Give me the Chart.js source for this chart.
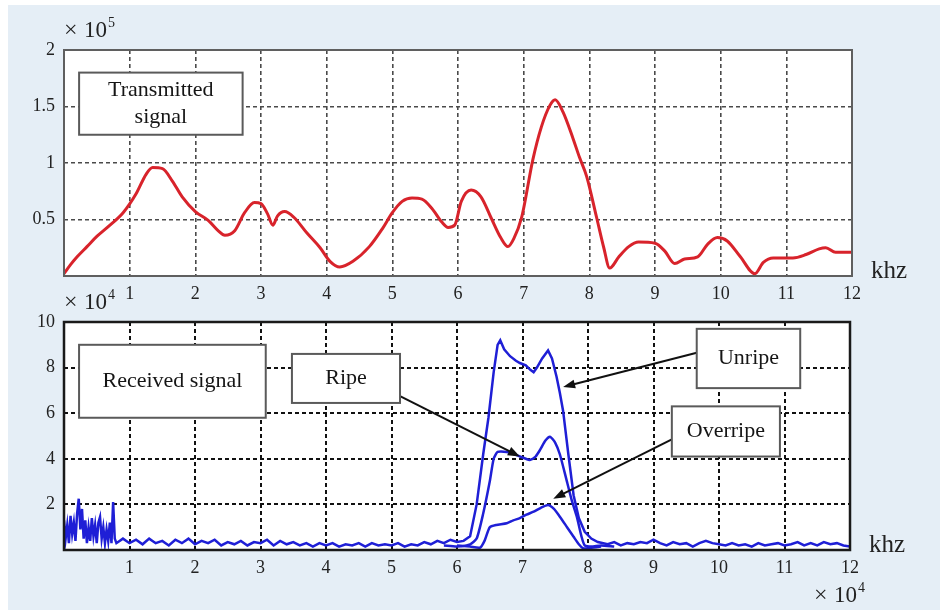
<!DOCTYPE html>
<html>
<head>
  <title>Transmitted and received signal</title>
  <script src="https://cdn.jsdelivr.net/npm/chart.js"></script>
  <style>
    body {
      margin: 0;
      width: 940px;
      height: 610px;
      background: #fff;
      overflow: hidden;
    }
    #panel {
      position: absolute;
      left: 8px;
      top: 5px;
      width: 932px;
      height: 605px;
      background: #e5eef6;
    }
    canvas {
      position: absolute;
      left: 0;
    }
    #topChart { top: 0; }
    #bottomChart { top: 280px; }
  </style>
</head>
<body>
  <div id="panel"></div>
  <canvas id="topChart" width="940" height="310"></canvas>
  <canvas id="bottomChart" width="940" height="330"></canvas>

  <script>
    // Tick values (x in units of 10^4 Hz, shown as "khz")
    const xTicks = [1, 2, 3, 4, 5, 6, 7, 8, 9, 10, 11, 12];
    const topYTicks = [0.5, 1, 1.5, 2];      // x 10^5
    const bottomYTicks = [2, 4, 6, 8, 10];   // x 10^4

    // Transmitted signal (x 10^5)
    const sentX = [0, 0.1, 0.2, 0.35, 0.5, 0.7, 0.9, 1.1, 1.25, 1.35, 1.5, 1.65, 1.8, 2.0, 2.2, 2.35, 2.45, 2.6, 2.75, 2.9,
      3.0, 3.1, 3.18, 3.25, 3.36, 3.5, 3.7, 3.9, 4.05, 4.2, 4.4, 4.65, 4.85, 5.0, 5.15, 5.3, 5.45, 5.6, 5.75, 5.85,
      5.95, 6.05, 6.2, 6.35, 6.5, 6.65, 6.76, 6.85, 6.97, 7.14, 7.27, 7.4, 7.48, 7.6, 7.75, 7.85, 7.96, 8.11, 8.22, 8.31,
      8.45, 8.6, 8.75, 9.0, 9.15, 9.3, 9.45, 9.65, 9.8, 9.95, 10.1, 10.3, 10.52, 10.65, 10.8, 11.1, 11.3, 11.5, 11.6, 11.75, 12.0];
    const sentY = [0.02, 0.1, 0.17, 0.26, 0.35, 0.45, 0.56, 0.73, 0.9, 0.96, 0.95, 0.84, 0.7, 0.57, 0.49, 0.4, 0.36, 0.4, 0.56, 0.65,
      0.64, 0.55, 0.45, 0.53, 0.57, 0.52, 0.38, 0.25, 0.13, 0.08, 0.13, 0.26, 0.42, 0.56, 0.66, 0.69, 0.68, 0.6, 0.48, 0.43,
      0.45, 0.66, 0.76, 0.7, 0.52, 0.34, 0.26, 0.33, 0.52, 1.03, 1.32, 1.51, 1.56, 1.45, 1.22, 1.05, 0.88, 0.52, 0.25, 0.07,
      0.17, 0.26, 0.3, 0.29, 0.22, 0.11, 0.15, 0.17, 0.28, 0.34, 0.31, 0.17, 0.02, 0.12, 0.16, 0.16, 0.19, 0.24, 0.25, 0.21, 0.21];

    // Received signal, unripe fruit (x 10^4), carries the noise floor
    const unripeX = [0, 0.025, 0.05, 0.075, 0.1, 0.125, 0.15, 0.175, 0.2, 0.225, 0.25, 0.275, 0.3, 0.325, 0.35, 0.375, 0.4,
      0.425, 0.45, 0.475, 0.5, 0.525, 0.55, 0.575, 0.6, 0.625, 0.65, 0.675, 0.7, 0.725, 0.75, 0.775, 0.8,
      0.9, 1.0, 1.1, 1.2, 1.3, 1.4, 1.5, 1.6, 1.7, 1.8, 1.9, 2.0, 2.1, 2.2, 2.3, 2.4, 2.5, 2.6, 2.7, 2.8, 2.9,
      3.0, 3.1, 3.2, 3.3, 3.4, 3.5, 3.6, 3.7, 3.8, 3.9, 4.0, 4.1, 4.2, 4.3, 4.4, 4.5, 4.6, 4.7, 4.8, 4.9,
      5.0, 5.1, 5.2, 5.3, 5.4, 5.5, 5.6, 5.7, 5.8, 5.9, 6.0,
      6.1, 6.2, 6.3, 6.4, 6.48, 6.56, 6.62, 6.66, 6.72, 6.81, 6.9, 6.96, 7.05, 7.12, 7.17, 7.22, 7.3, 7.39, 7.45,
      7.52, 7.57, 7.62, 7.7, 7.78, 7.86, 7.95, 8.05, 8.15,
      8.3, 8.4, 8.5, 8.6, 8.7, 8.8, 8.9, 9.0, 9.1, 9.2, 9.3, 9.4, 9.5, 9.6, 9.7, 9.8, 9.9, 10.0, 10.1, 10.2,
      10.3, 10.4, 10.5, 10.6, 10.7, 10.8, 10.9, 11.0, 11.1, 11.2, 11.3, 11.4, 11.5, 11.6, 11.7, 11.8, 11.9, 12.0];
    const unripeY = [1.3, 0.5, 1.1, 0.3, 1.5, 0.7, 1.2, 0.4, 1.6, 2.25, 0.9, 1.8, 0.5, 1.3, 0.3, 1.0, 0.4,
      1.4, 0.6, 1.1, 0.3, 1.2, 1.45, 0.5, 1.0, 0.3, 0.9, 0.4, 1.2, 0.3, 2.1, 0.5, 0.3,
      0.5, 0.3, 0.45, 0.25, 0.5, 0.3, 0.4, 0.2, 0.45, 0.3, 0.5, 0.25, 0.4, 0.3, 0.45, 0.2, 0.35, 0.25, 0.4, 0.2, 0.35,
      0.3, 0.45, 0.2, 0.4, 0.25, 0.35, 0.2, 0.3, 0.15, 0.3, 0.2, 0.3, 0.15, 0.25, 0.2, 0.3, 0.15, 0.3, 0.2, 0.25,
      0.2, 0.3, 0.15, 0.25, 0.2, 0.35, 0.25, 0.4, 0.3, 0.45, 0.35,
      0.4, 0.6, 2.0, 4.2, 5.8, 7.8, 9.0, 9.2, 8.8, 8.5, 8.3, 8.2, 8.1, 7.9, 7.8, 8.0, 8.4, 8.75, 8.4,
      7.6, 6.9, 6.1, 4.2, 2.4, 1.4, 0.8, 0.5, 0.35,
      0.25, 0.35, 0.2, 0.3, 0.25, 0.35, 0.3, 0.45, 0.3, 0.2, 0.35, 0.25, 0.3, 0.15, 0.3, 0.4, 0.3, 0.25, 0.2, 0.3,
      0.2, 0.25, 0.15, 0.3, 0.2, 0.25, 0.3, 0.2, 0.25, 0.35, 0.2, 0.3, 0.2, 0.35, 0.25, 0.3, 0.2, 0.15];

    // Received signal, ripe fruit (x 10^4)
    const ripeX = [5.8, 6.0, 6.2, 6.3, 6.4, 6.5, 6.56, 6.62, 6.76, 6.88, 6.96, 7.05, 7.11, 7.2, 7.27, 7.35, 7.42, 7.5,
      7.57, 7.67, 7.75, 7.83, 7.9, 7.95, 8.05, 8.2, 8.4];
    const ripeY = [0.2, 0.15, 0.25, 0.5, 1.6, 3.0, 4.0, 4.3, 4.3, 4.2, 4.1, 4.0, 3.95, 4.1, 4.4, 4.8, 4.97, 4.7,
      4.2, 3.1, 2.2, 1.45, 0.6, 0.2, 0.15, 0.2, 0.15];

    // Received signal, overripe fruit (x 10^4)
    const overripeX = [6.0, 6.2, 6.35, 6.42, 6.5, 6.6, 6.76, 6.86, 6.96, 7.06, 7.17, 7.28, 7.39, 7.48, 7.57, 7.68,
      7.78, 7.86, 7.93, 8.05, 8.2];
    const overripeY = [0.2, 0.15, 0.1, 0.4, 1.0, 1.1, 1.17, 1.3, 1.4, 1.55, 1.68, 1.85, 1.97, 1.8, 1.46, 1.0,
      0.58, 0.25, 0.07, 0.1, 0.15];

    const SERIF = '"Liberation Serif", "DejaVu Serif", serif';
    const RED = '#d8232b';
    const BLUE = '#1f1fd6';

    function points(xs, ys) {
      return xs.map((x, i) => ({ x: x, y: ys[i] }));
    }

    // text boxes and arrows, in data units of each chart
    const topNotes = [
      { x0: 0.23, x1: 2.72, y0: 1.8, y1: 1.25, lines: ['Transmitted', 'signal'] }
    ];
    const bottomNotes = [
      { x0: 0.23, x1: 3.08, y0: 9.0, y1: 5.8, lines: ['Received signal'] },
      { x0: 3.48, x1: 5.13, y0: 8.6, y1: 6.45, lines: ['Ripe'], from: [5.13, 6.75], to: [6.96, 4.1] },
      { x0: 9.66, x1: 11.24, y0: 9.7, y1: 7.1, lines: ['Unripe'], from: [9.66, 8.65], to: [7.62, 7.15] },
      { x0: 9.28, x1: 10.93, y0: 6.3, y1: 4.1, lines: ['Overripe'], from: [9.28, 4.85], to: [7.47, 2.25] }
    ];

    function drawArrow(ctx, x1, y1, x2, y2) {
      const a = Math.atan2(y2 - y1, x2 - x1);
      ctx.save();
      ctx.strokeStyle = '#111';
      ctx.fillStyle = '#111';
      ctx.lineWidth = 2;
      ctx.beginPath();
      ctx.moveTo(x1, y1);
      ctx.lineTo(x2 - 8 * Math.cos(a), y2 - 8 * Math.sin(a));
      ctx.stroke();
      ctx.beginPath();
      ctx.moveTo(x2, y2);
      ctx.lineTo(x2 - 12 * Math.cos(a) + 4.5 * Math.sin(a), y2 - 12 * Math.sin(a) - 4.5 * Math.cos(a));
      ctx.lineTo(x2 - 12 * Math.cos(a) - 4.5 * Math.sin(a), y2 - 12 * Math.sin(a) + 4.5 * Math.cos(a));
      ctx.closePath();
      ctx.fill();
      ctx.restore();
    }

    function drawPower(ctx, x, y, exp) {
      ctx.save();
      ctx.fillStyle = '#222';
      ctx.textAlign = 'left';
      ctx.textBaseline = 'alphabetic';
      ctx.font = '24px ' + SERIF;
      ctx.fillText('\u00d7', x, y);
      ctx.font = '23px ' + SERIF;
      ctx.fillText('10', x + 20, y);
      ctx.font = '14px ' + SERIF;
      ctx.fillText(exp, x + 44, y - 10);
      ctx.restore();
    }

    // white plot area, frame, notes and the axis captions
    const framePlugin = {
      id: 'frame',
      beforeDraw(chart, args, opts) {
        const a = chart.chartArea;
        const ctx = chart.ctx;
        ctx.save();
        ctx.fillStyle = '#fff';
        ctx.fillRect(a.left, a.top, a.right - a.left, a.bottom - a.top);
        ctx.restore();
      },
      afterDraw(chart, args, opts) {
        const a = chart.chartArea;
        const ctx = chart.ctx;
        const sx = chart.scales.x, sy = chart.scales.y;
        ctx.save();
        ctx.strokeStyle = opts.frameColor;
        ctx.lineWidth = opts.frameWidth;
        ctx.strokeRect(a.left, a.top, a.right - a.left, a.bottom - a.top);
        ctx.restore();

        opts.notes.forEach(n => {
          if (n.from) {
            drawArrow(ctx, sx.getPixelForValue(n.from[0]), sy.getPixelForValue(n.from[1]),
              sx.getPixelForValue(n.to[0]), sy.getPixelForValue(n.to[1]));
          }
          const l = sx.getPixelForValue(n.x0), r = sx.getPixelForValue(n.x1);
          const t = sy.getPixelForValue(n.y0), b = sy.getPixelForValue(n.y1);
          ctx.save();
          ctx.fillStyle = '#fff';
          ctx.fillRect(l, t, r - l, b - t);
          ctx.strokeStyle = '#5a5a5a';
          ctx.lineWidth = 2;
          ctx.strokeRect(l, t, r - l, b - t);
          ctx.fillStyle = '#151515';
          ctx.font = '22px ' + SERIF;
          ctx.textAlign = 'center';
          ctx.textBaseline = 'middle';
          const lh = 27;
          const cy = (t + b) / 2 - (n.lines.length - 1) * lh / 2;
          n.lines.forEach((s, i) => ctx.fillText(s, (l + r) / 2, cy + i * lh));
          ctx.restore();
        });

        ctx.save();
        ctx.fillStyle = '#222';
        ctx.font = '25px ' + SERIF;
        ctx.textAlign = 'left';
        ctx.textBaseline = 'alphabetic';
        ctx.fillText('khz', a.right + 19, a.bottom + 2);
        ctx.restore();

        drawPower(ctx, a.left, a.top - 13, opts.yExp);
        if (opts.xExp) drawPower(ctx, a.right - 36, a.bottom + 52, opts.xExp);
      }
    };

    function makeChart(id, datasets, yMax, yTicks, grid, frame, pad, xHeight) {
      return new Chart(document.getElementById(id), {
        type: 'line',
        data: { datasets: datasets },
        plugins: [framePlugin],
        options: {
          responsive: false,
          animation: false,
          layout: { padding: pad },
          plugins: {
            legend: { display: false },
            tooltip: { enabled: false },
            frame: frame
          },
          elements: { point: { radius: 0 } },
          scales: {
            x: {
              type: 'linear',
              min: 0,
              max: 12,
              afterFit: s => { s.height = xHeight; },
              afterBuildTicks: s => { s.ticks = [0].concat(xTicks).map(v => ({ value: v })); },
              ticks: {
                padding: 7,
                color: '#222',
                font: { family: SERIF, size: 18 },
                callback: v => (v === 0 ? '' : String(v))
              },
              grid: { color: grid.color, lineWidth: grid.width, drawTicks: false },
              border: { display: false, dash: grid.dash }
            },
            y: {
              min: 0,
              max: yMax,
              afterFit: s => { s.width = 64; },
              afterBuildTicks: s => { s.ticks = [0].concat(yTicks).map(v => ({ value: v })); },
              ticks: {
                padding: 9,
                color: '#222',
                font: { family: SERIF, size: 18 },
                callback: v => (v === 0 ? '' : String(v))
              },
              grid: { color: grid.color, lineWidth: grid.width, drawTicks: false },
              border: { display: false, dash: grid.dash }
            }
          }
        }
      });
    }

    makeChart('topChart', [{
        data: points(sentX, sentY),
        borderColor: RED,
        borderWidth: 3,
        cubicInterpolationMode: 'monotone'
      }],
      2, topYTicks,
      { color: '#4a4a4a', width: 1.6, dash: [4, 3] },
      { notes: topNotes, frameColor: '#5f5f5f', frameWidth: 2, yExp: '5' },
      { top: 50, right: 88, left: 0, bottom: 0 }, 34);

    makeChart('bottomChart', [
        { data: points(unripeX, unripeY), borderColor: BLUE, borderWidth: 2.5, tension: 0 },
        { data: points(ripeX, ripeY), borderColor: BLUE, borderWidth: 2.5, tension: 0.2 },
        { data: points(overripeX, overripeY), borderColor: BLUE, borderWidth: 2.5, tension: 0.2 }
      ],
      10, bottomYTicks,
      { color: '#111', width: 2, dash: [4, 3] },
      { notes: bottomNotes, frameColor: '#1a1a1a', frameWidth: 2.5, yExp: '4', xExp: '4' },
      { top: 42, right: 90, left: 0, bottom: 0 }, 60);
  </script>
</body>
</html>
